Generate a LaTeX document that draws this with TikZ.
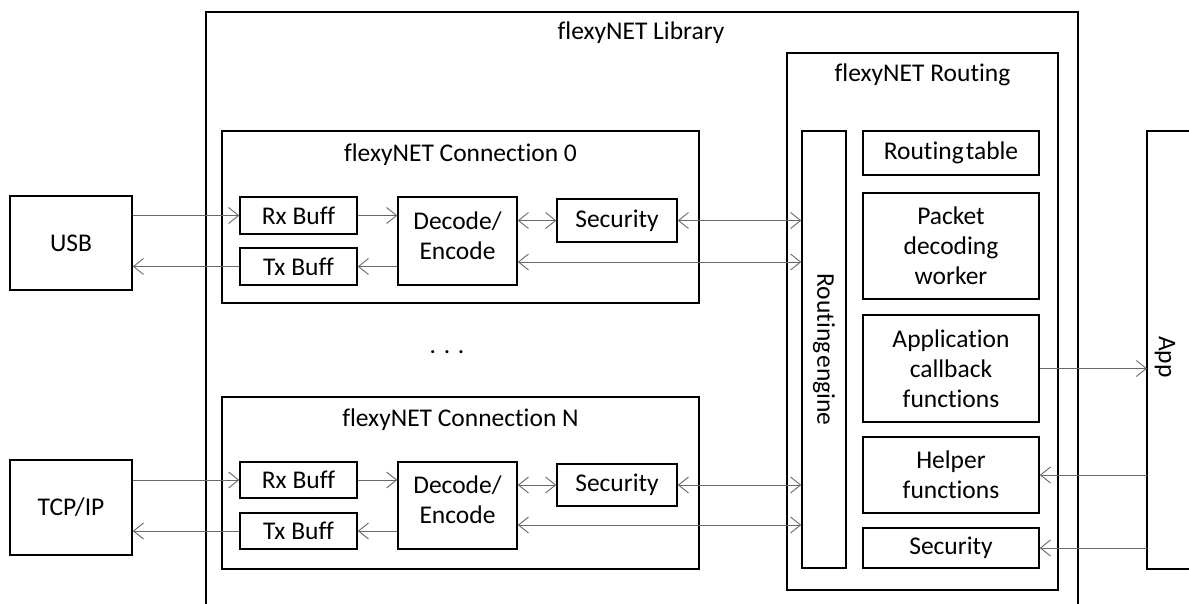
\documentclass[tikz,border=0pt]{standalone}
\usepackage{fontspec}
\setmainfont{Carlito}[Ligatures=NoCommon]
\usetikzlibrary{arrows.meta}
\definecolor{arrgray}{RGB}{105,105,105}
\begin{document}
\begin{tikzpicture}[x=1pt,y=-1pt,
  box/.style={draw=black, line width=1.5pt, align=center, inner sep=0pt,
    font=\fontsize{25.5}{30}\selectfont},
  lbl/.style={align=center, inner sep=0pt, font=\fontsize{25.5}{30}\selectfont},
  arr/.style={draw=arrgray, line width=0.9pt, -{Straight Barb[length=10pt,width=16pt,line width=0.9pt]}},
  darr/.style={draw=arrgray, line width=0.9pt, {Straight Barb[length=10pt,width=16pt,line width=0.9pt]}-{Straight Barb[length=10pt,width=16pt,line width=0.9pt]}},
  frame/.style={draw=black, line width=1.5pt}]
\path[use as bounding box, fill=white] (0,0) rectangle (1189,604);
\clip (0,0) rectangle (1189,604);

% library frame (open at bottom)
\draw[frame] (206,610) -- (206,12) -- (1078,12) -- (1078,610);
\node[lbl] (lib) at (641,33) {flexyNET Library};

% external
\node[box, minimum width=122, minimum height=94] (usb) at (71,243) {USB};
\node[box, minimum width=122, minimum height=95] (tcp) at (71,507.5) {TCP/IP};

% connection 0
\node[box, minimum width=477, minimum height=172] (conn0) at (460.5,217) {};
\node[lbl] (conn0t) at (460.5,155) {flexyNET Connection 0};
\node[box, minimum width=117, minimum height=37] (rx0) at (298.5,215.5) {Rx Buff};
\node[box, minimum width=117, minimum height=37] (tx0) at (298.5,266.5) {Tx Buff};
\node[box, minimum width=119, minimum height=88] (dec0) at (457.5,241) {};
\node[lbl] (dec0t) at (457.5,235.5) {Decode/\\Encode};
\node[box, minimum width=120, minimum height=43] (sec0) at (617,220.5) {Security};

\node[lbl] (dots) at (447,352) {. . .};

% connection N
\node[box, minimum width=477, minimum height=172] (connN) at (460.5,483) {};
\node[lbl] (connNt) at (460.5,420) {flexyNET Connection N};
\node[box, minimum width=117, minimum height=36] (rxN) at (298.5,480) {Rx Buff};
\node[box, minimum width=117, minimum height=36] (txN) at (298.5,531) {Tx Buff};
\node[box, minimum width=119, minimum height=87] (decN) at (457.5,505.5) {};
\node[lbl] (decNt) at (457.5,500) {Decode/\\Encode};
\node[box, minimum width=120, minimum height=42] (secN) at (617,485) {Security};

% routing
\node[box, minimum width=271, minimum height=537] (rout) at (922.5,321.5) {};
\node[lbl] (routt) at (922.5,75) {flexyNET Routing};
\node[box, minimum width=437, minimum height=44, rotate=-90] (re) at (824,349.5) {Routing\hspace{0.08em}engine};
\node[box, minimum width=176, minimum height=44] (rt) at (951,153) {Routing\hspace{0.08em}table};
\node[box, minimum width=176, minimum height=106] (pdw) at (951,246) {Packet\\decoding\\worker};
\node[box, minimum width=176, minimum height=107] (acf) at (951,368.5) {Application\\callback\\functions};
\node[box, minimum width=176, minimum height=76] (hf) at (951,475) {Helper\\functions};
\node[box, minimum width=176, minimum height=40] (secR) at (951,548) {Security};

% app (open at right)
\draw[frame] (1195,131) -- (1147,131) -- (1147,569) -- (1195,569);
\coordinate (appL) at (1147,350);
\node[lbl, rotate=-90] (app) at (1165,357) {App};

% connectors connection 0
\draw[arr] (usb.east |- rx0.west) -- (rx0.west);
\draw[arr] (tx0.west) -- (usb.east |- tx0.west);
\draw[arr] (rx0.east) -- (dec0.west |- rx0.east);
\draw[arr] (dec0.west |- tx0.east) -- (tx0.east);
\draw[darr] (dec0.east |- sec0.west) -- (sec0.west);
\draw[darr] (sec0.east) -- (re.south |- sec0.east);
\draw[darr] (dec0.east |- 0,262) -- (re.south |- 0,262);

% connectors connection N
\draw[arr] (tcp.east |- rxN.west) -- (rxN.west);
\draw[arr] (txN.west) -- (tcp.east |- txN.west);
\draw[arr] (rxN.east) -- (decN.west |- rxN.east);
\draw[arr] (decN.west |- txN.east) -- (txN.east);
\draw[darr] (decN.east |- secN.west) -- (secN.west);
\draw[darr] (secN.east) -- (re.south |- secN.east);
\draw[darr] (decN.east |- 0,525) -- (re.south |- 0,525);

% app connectors
\draw[arr] (acf.east) -- (appL |- acf.east);
\draw[arr] (appL |- hf.east) -- (hf.east);
\draw[arr] (appL |- secR.east) -- (secR.east);
\end{tikzpicture}
\end{document}
